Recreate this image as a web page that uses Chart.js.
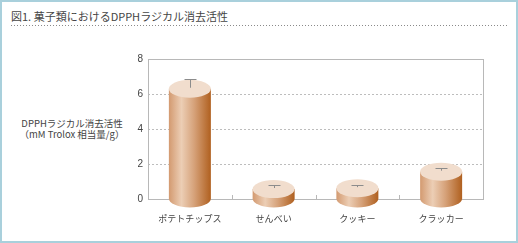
<!DOCTYPE html>
<html><head><meta charset="utf-8">
<script src="https://cdn.jsdelivr.net/npm/chart.js@4"></script>
<style>
html,body{margin:0;padding:0;background:#fff;}
#frame{position:absolute;left:0;top:0;width:518px;height:243px;box-sizing:border-box;border:2px solid #a9d0dc;}
#title{position:absolute;left:11px;top:8px;font:11px "Noto Sans CJK JP",sans-serif;color:#444;white-space:nowrap;}
#dots{position:absolute;left:11px;top:25px;width:496px;height:1px;background-image:linear-gradient(to right,#8a8a8a 1px,transparent 1px);background-size:3px 1px;}
#ylab{position:absolute;left:8px;width:128px;top:118px;text-align:center;font:9.5px "Noto Sans CJK JP",sans-serif;color:#444;line-height:11px;}
#wrap{position:absolute;left:0;top:0;width:518px;height:243px;}
</style></head>
<body>
<div id="frame"></div>
<div id="title">図1. 菓子類におけるDPPHラジカル消去活性</div>
<div id="dots"></div>
<div id="ylab">DPPHラジカル消去活性<br>（mM Trolox 相当量/g）</div>
<div id="wrap"><canvas id="c" width="518" height="243"></canvas></div>
<script>
const categories = ["ポテトチップス","せんべい","クッキー","クラッカー"];
const values = [6.3, 0.57, 0.62, 1.56];
const errors = [0.55, 0.23, 0.2, 0.23];
const yTicks = [0, 2, 4, 6, 8];

const cylPlugin = {
  id:'cyl',
  beforeDatasetsDraw(chart){
    const {ctx, chartArea:a, scales:{x}} = chart;
    ctx.save();
    ctx.strokeStyle='#b8b8b8'; ctx.lineWidth=1;
    ctx.strokeRect(Math.round(a.left)+0.5, Math.round(a.top)+0.5, Math.round(a.right-a.left), Math.round(a.bottom-a.top));
    for(let i=0;i<categories.length-1;i++){
      const px = Math.round((x.getPixelForValue(i)+x.getPixelForValue(i+1))/2)+0.5;
      ctx.beginPath(); ctx.moveTo(px, a.bottom); ctx.lineTo(px, a.bottom-4); ctx.stroke();
    }
    ctx.restore();
  },
  afterDatasetsDraw(chart){
    const {ctx, scales:{y}} = chart;
    const meta = chart.getDatasetMeta(0);
    const ry = 9;
    meta.data.forEach((bar,i)=>{
      const cx = bar.x, top = bar.y, base = bar.base, rx = bar.width/2;
      ctx.save();
      const g = ctx.createLinearGradient(cx-rx,0,cx+rx,0);
      g.addColorStop(0,'#d39a70');
      g.addColorStop(0.3,'#ecceb5');
      g.addColorStop(0.6,'#d6a27a');
      g.addColorStop(1,'#b0601f');
      ctx.fillStyle=g;
      ctx.beginPath();
      ctx.moveTo(cx-rx, top);
      ctx.lineTo(cx-rx, base);
      ctx.ellipse(cx, base, rx, ry, 0, Math.PI, 0, true);
      ctx.lineTo(cx+rx, top);
      ctx.closePath();
      ctx.fill();
      ctx.fillStyle='#f1ddcd';
      ctx.beginPath();
      ctx.ellipse(cx, top, rx, ry, 0, 0, Math.PI*2);
      ctx.fill();
      const ye = y.getPixelForValue(values[i]+errors[i]);
      ctx.strokeStyle='#8c8c8c'; ctx.lineWidth=1;
      const xs = Math.round(cx)+0.5, yr = Math.round(ye)+0.5;
      ctx.beginPath();
      ctx.moveTo(xs, top-1); ctx.lineTo(xs, yr);
      ctx.moveTo(xs-6, yr); ctx.lineTo(xs+6, yr);
      ctx.stroke();
      ctx.restore();
    });
  }
};

new Chart(document.getElementById('c'),{
  type:'bar',
  data:{labels:categories,datasets:[{data:values,backgroundColor:'rgba(0,0,0,0)',borderWidth:0,barThickness:42}]},
  options:{
    responsive:false,animation:false,
    layout:{padding:{left:0,top:59,right:35,bottom:0}},
    plugins:{legend:{display:false},tooltip:{enabled:false},title:{display:false}},
    scales:{
      x:{
        grid:{display:false,drawTicks:false},
        border:{display:false},
        ticks:{padding:14,color:'#444',font:{family:'"Noto Sans CJK JP"',size:9}},
        afterFit(s){s.height=44;}
      },
      y:{
        min:0,max:8,
        afterBuildTicks(s){s.ticks=yTicks.map(v=>({value:v}));},
        grid:{drawTicks:false,color:'#bdbdbd',lineWidth:1},
        border:{display:false,dash:[2,2]},
        ticks:{padding:5,color:'#444',font:{family:'"Liberation Sans Narrow","Liberation Sans"',size:10}},
        afterFit(s){s.width=148;}
      }
    }
  },
  plugins:[cylPlugin]
});
</script>
</body></html>
